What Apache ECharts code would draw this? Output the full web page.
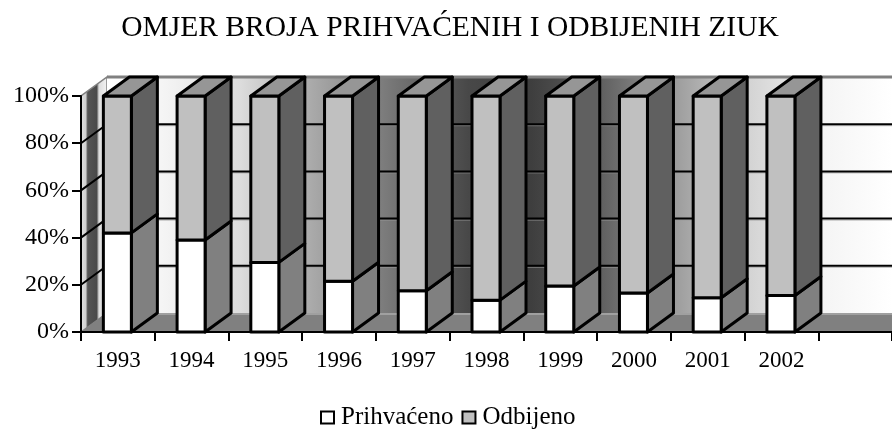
<!DOCTYPE html>
<html>
<head>
<meta charset="utf-8">
<style>html,body{margin:0;padding:0;background:#fff}#c{width:892px;height:430px}</style>
<script src="https://cdn.jsdelivr.net/npm/echarts@6/dist/echarts.min.js"></script>
</head>
<body>
<div id="c"></div>
<script>
const titleText = 'OMJER BROJA PRIHVAĆENIH I ODBIJENIH ZIUK';
const categories = ['1993','1994','1995','1996','1997','1998','1999','2000','2001','2002',''];
const prihvaceno = [42,39,29.5,21.5,17.5,13.5,19.5,16.5,14.5,15.5];
const odbijeno = [58,61,70.5,78.5,82.5,86.5,80.5,83.5,85.5,84.5];
const yTicks = [0,20,40,60,80,100];
const FONT = '"Liberation Serif","Times New Roman",serif';
const DX = 26, DY = -19, BAR_W = 28;

function bar(colorFront, colorSide, withTop) {
  return function (params, api) {
    const i = api.value(0);
    const c0 = api.coord([i, api.value(1)]);
    const c1 = api.coord([i, api.value(2)]);
    const x0 = c0[0] - BAR_W / 2 - 0.5, x1 = x0 + BAR_W;
    const yb = c0[1], yt = c1[1];
    const st = (fill) => ({fill, stroke:'#000', lineWidth:3, lineJoin:'round'});
    const children = [
      {type:'polygon', shape:{points:[[x1,yb],[x1+DX,yb+DY],[x1+DX,yt+DY],[x1,yt]]}, style:st(colorSide)},
      {type:'rect', shape:{x:x0,y:yt,width:BAR_W,height:yb-yt}, style:st(colorFront)}
    ];
    if (withTop) children.push({type:'polygon', shape:{points:[[x0,yt],[x1,yt],[x1+DX,yt+DY],[x0+DX,yt+DY]]}, style:st('#969696')});
    return {type:'group', children};
  };
}

function walls(params, api) {
  const g = params.coordSys;
  const L = g.x, R = g.x + g.width, yB = g.y + g.height, yT = g.y;
  const ch = [];
  ch.push({type:'polygon', shape:{points:[[L,yB],[L+DX,yB+DY],[L+DX,yT+DY],[L,yT]]},
    style:{fill:{type:'linear',x:0,y:0,x2:1,y2:0,colorStops:[
      {offset:0,color:'#e4e4e4'},{offset:0.2,color:'#d0d0d0'},{offset:0.27,color:'#555555'},
      {offset:0.6,color:'#4a4a4a'},{offset:0.68,color:'#dddddd'},{offset:1,color:'#f4f4f4'}]},
      stroke:'#808080',lineWidth:1.5}});
  ch.push({type:'rect', shape:{x:L+DX,y:yT+DY,width:R-L-DX,height:g.height},
    style:{fill:{type:'linear',x:0,y:0,x2:1,y2:0,colorStops:[
      {offset:0,color:'#ffffff'},{offset:0.07,color:'#f5f5f5'},{offset:0.17,color:'#dcdcdc'},
      {offset:0.26,color:'#aaaaaa'},{offset:0.36,color:'#787878'},{offset:0.46,color:'#484848'},
      {offset:0.54,color:'#3e3e3e'},{offset:0.63,color:'#606060'},{offset:0.73,color:'#a0a0a0'},
      {offset:0.82,color:'#d4d4d4'},{offset:0.91,color:'#f4f4f4'},{offset:1,color:'#ffffff'}]}}});
  ch.push({type:'line', shape:{x1:L+DX,y1:yT+DY,x2:R,y2:yT+DY}, style:{stroke:'#808080',lineWidth:3}});
  yTicks.forEach(v => {
    if (v === 0) return;
    const y = api.coord([0, v])[1];
    if (v < 100) {
      ch.push({type:'line', shape:{x1:L+DX,y1:y+DY+1.5,x2:R,y2:y+DY+1.5}, style:{stroke:'#9a9a9a',lineWidth:1,opacity:0.7}});
      ch.push({type:'line', shape:{x1:L+DX,y1:y+DY,x2:R,y2:y+DY}, style:{stroke:'#000',lineWidth:2}});
      ch.push({type:'line', shape:{x1:L,y1:y,x2:L+DX,y2:y+DY}, style:{stroke:'#000',lineWidth:2}});
    }
  });
  ch.push({type:'polygon', shape:{points:[[L,yB],[L+DX,yB+DY],[R,yB+DY],[R,yB]]}, style:{fill:'#808080'}});
  ch.push({type:'line', shape:{x1:L+DX,y1:yB+DY+1,x2:R,y2:yB+DY+1}, style:{stroke:'#a0a0a0',lineWidth:2}});
  return {type:'group', children:ch};
}

const chart = echarts.init(document.getElementById('c'), null, {renderer:'canvas'});
chart.setOption({
  animation:false,
  backgroundColor:'#fff',
  title:{text:titleText,left:445,top:8,textAlign:'center',
    textStyle:{fontFamily:FONT,fontSize:29.5,fontWeight:'normal',color:'#000'}},
  legend:{left:315,top:400,itemWidth:13,itemHeight:12,itemGap:8,icon:'rect',
    data:['Prihvaćeno','Odbijeno'],
    textStyle:{fontFamily:FONT,fontSize:25,color:'#000',padding:[0,0,0,2]}},
  grid:{left:81,right:0,top:96,height:236,containLabel:false},
  xAxis:{type:'category',data:categories,z:10,
    axisLine:{lineStyle:{color:'#000',width:2}},
    axisTick:{show:true,alignWithLabel:false,length:9,lineStyle:{color:'#000',width:2}},
    axisLabel:{interval:0,fontFamily:FONT,fontSize:23,color:'#000',margin:17},
    splitLine:{show:false}},
  yAxis:{type:'value',min:0,max:100,interval:20,z:10,
    axisLine:{show:true,lineStyle:{color:'#000',width:2}},
    axisTick:{show:true,length:9,lineStyle:{color:'#000',width:2}},
    axisLabel:{fontFamily:FONT,fontSize:24,color:'#000',margin:12,formatter:'{value}%'},
    splitLine:{show:false}},
  series:[
    {type:'custom',silent:true,z:1,renderItem:walls,data:[[0,0]],encode:{x:0,y:1},clip:false},
    {type:'custom',name:'Prihvaćeno',z:2,renderItem:bar('#ffffff','#808080',false),clip:false,
      itemStyle:{color:'#ffffff',borderColor:'#000',borderWidth:2.5},
      encode:{x:0,y:[1,2]},
      data:prihvaceno.map((v,i)=>[i,0,v])},
    {type:'custom',name:'Odbijeno',z:3,renderItem:bar('#c0c0c0','#606060',true),clip:false,
      itemStyle:{color:'#c0c0c0',borderColor:'#000',borderWidth:2.5},
      encode:{x:0,y:[1,2]},
      data:odbijeno.map((v,i)=>[i,prihvaceno[i],prihvaceno[i]+v])}
  ]
});
</script>
</body>
</html>
